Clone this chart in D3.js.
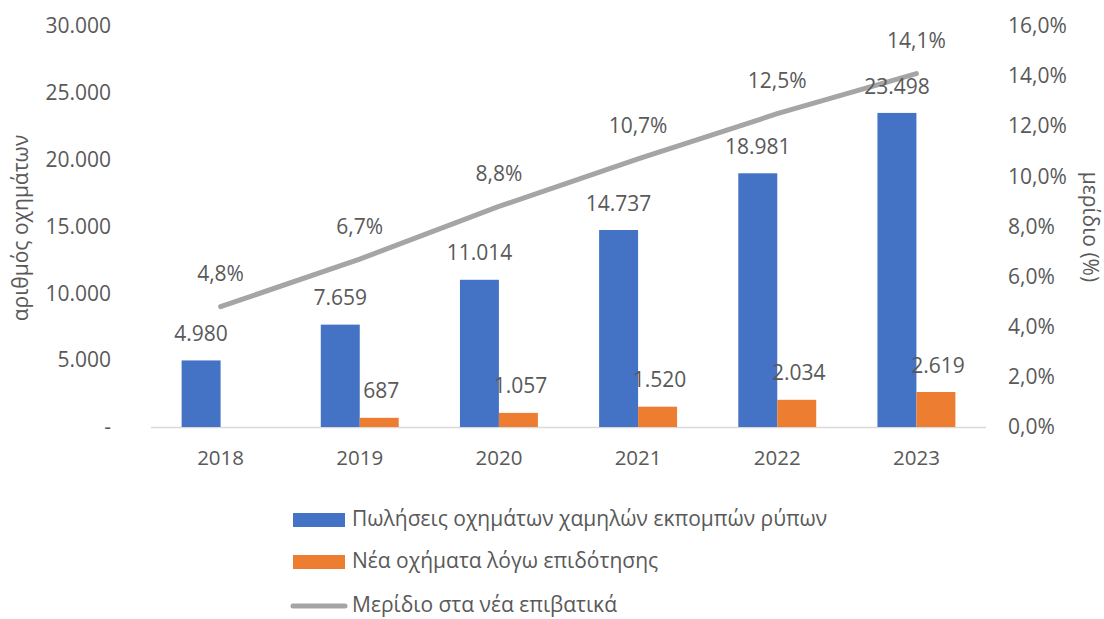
<!DOCTYPE html>
<html>
<head>
<meta charset="utf-8">
<script src="https://cdn.jsdelivr.net/npm/d3@7"></script>
<style>
  body { margin: 0; background: #fff; }
  svg text { font-family: "Open Sans", sans-serif; fill: #595959; }
</style>
</head>
<body>
<div id="chart"></div>
<script>
// Chart data
const years = ['2018', '2019', '2020', '2021', '2022', '2023'];
const lowEmissionSales = [4980, 7659, 11014, 14737, 18981, 23498];
const subsidyVehicles = [null, 687, 1057, 1520, 2034, 2619];
const sharePct = [4.8, 6.7, 8.8, 10.7, 12.5, 14.1];
const leftTicks = [0, 5000, 10000, 15000, 20000, 25000, 30000];
const rightTicks = [0, 2, 4, 6, 8, 10, 12, 14, 16];
const seriesNames = [
    'Πωλήσεις οχημάτων χαμηλών εκπομπών ρύπων',
    'Νέα οχήματα λόγω επιδότησης',
    'Μερίδιο στα νέα επιβατικά'
];

const width = 1104;
const height = 619;
const plot = { left: 151, right: 986, top: 26, bottom: 427 };
const blue = '#4472c4', orange = '#ed7d31', grey = '#a5a5a5';

const locale = d3.formatLocale({ decimal: ',', thousands: '.', grouping: [3], currency: ['€', ''] });
const fmtNum = v => v === 0 ? '-' : locale.format(',')(v);
const fmtPct = v => locale.format('.1f')(v) + '%';

const svg = d3.select('#chart')
    .append('svg')
    .attr('width', width)
    .attr('height', height);

const x = d3.scaleBand().domain(years).range([plot.left, plot.right]);
const yLeft = d3.scaleLinear().domain([0, 30000]).range([plot.bottom, plot.top]);
const yRight = d3.scaleLinear().domain([0, 16]).range([plot.bottom, plot.top]);
const barW = x.bandwidth() * 0.28;

// Left axis labels
const leftAxis = svg.append('g')
    .attr('transform', `translate(${plot.left - 40},0)`)
    .call(d3.axisLeft(yLeft).tickValues(leftTicks).tickFormat(fmtNum).tickSize(0).tickPadding(0));
leftAxis.select('.domain').remove();
leftAxis.selectAll('text').attr('font-size', 21).attr('fill', '#595959');

// Right axis labels
const rightAxis = svg.append('g')
    .attr('transform', `translate(${plot.right + 22},0)`)
    .call(d3.axisRight(yRight).tickValues(rightTicks).tickFormat(fmtPct).tickSize(0).tickPadding(0));
rightAxis.select('.domain').remove();
rightAxis.selectAll('text').attr('font-size', 21).attr('fill', '#595959');

// Category axis
svg.append('line')
    .attr('x1', plot.left).attr('x2', plot.right)
    .attr('y1', plot.bottom + 0.5).attr('y2', plot.bottom + 0.5)
    .attr('stroke', '#d9d9d9').attr('stroke-width', 1.5);

svg.selectAll('.year')
    .data(years)
    .join('text')
    .attr('x', d => x(d) + x.bandwidth() / 2)
    .attr('y', plot.bottom + 33)
    .attr('text-anchor', 'middle')
    .attr('dominant-baseline', 'middle')
    .attr('font-size', 20.5)
    .text(d => d);

// Axis titles
svg.append('text')
    .attr('transform', 'translate(22,228) rotate(-90)')
    .attr('text-anchor', 'middle')
    .attr('dominant-baseline', 'middle')
    .attr('font-size', 21)
    .text('αριθμός οχημάτων');

svg.append('text')
    .attr('transform', 'translate(1089,227) rotate(90)')
    .attr('text-anchor', 'middle')
    .attr('dominant-baseline', 'middle')
    .attr('font-size', 21)
    .text('μερίδιο (%)');

// Bars
const cx = d => x(d) + x.bandwidth() / 2;

svg.selectAll('.bar-blue')
    .data(years.map((d, i) => ({ year: d, v: lowEmissionSales[i] })))
    .join('rect')
    .attr('x', d => cx(d.year) - barW)
    .attr('y', d => yLeft(d.v))
    .attr('width', barW)
    .attr('height', d => plot.bottom - yLeft(d.v))
    .attr('fill', blue);

const orangeData = years.map((d, i) => ({ year: d, v: subsidyVehicles[i] })).filter(d => d.v != null);

svg.selectAll('.bar-orange')
    .data(orangeData)
    .join('rect')
    .attr('x', d => cx(d.year))
    .attr('y', d => yLeft(d.v))
    .attr('width', barW)
    .attr('height', d => plot.bottom - yLeft(d.v))
    .attr('fill', orange);

// Share line
const lineData = years.map((d, i) => ({ year: d, v: sharePct[i] }));
svg.append('path')
    .datum(lineData)
    .attr('d', d3.line().x(d => cx(d.year)).y(d => yRight(d.v)))
    .attr('fill', 'none')
    .attr('stroke', grey)
    .attr('stroke-width', 5)
    .attr('stroke-linecap', 'round');

// Data labels
svg.selectAll('.lbl-blue')
    .data(years.map((d, i) => ({ year: d, v: lowEmissionSales[i] })))
    .join('text')
    .attr('x', d => cx(d.year) - barW / 2)
    .attr('y', d => yLeft(d.v) - 25)
    .attr('text-anchor', 'middle')
    .attr('dominant-baseline', 'middle')
    .attr('font-size', 21)
    .attr('fill', '#404040')
    .text(d => fmtNum(d.v));

svg.selectAll('.lbl-orange')
    .data(orangeData)
    .join('text')
    .attr('x', d => cx(d.year) + barW / 2 + 2)
    .attr('y', d => yLeft(d.v) - 25)
    .attr('text-anchor', 'middle')
    .attr('dominant-baseline', 'middle')
    .attr('font-size', 21)
    .attr('fill', '#404040')
    .text(d => fmtNum(d.v));

svg.selectAll('.lbl-line')
    .data(lineData)
    .join('text')
    .attr('x', d => cx(d.year))
    .attr('y', d => yRight(d.v) - 31)
    .attr('text-anchor', 'middle')
    .attr('dominant-baseline', 'middle')
    .attr('font-size', 21)
    .attr('fill', '#404040')
    .text(d => fmtPct(d.v));

// Legend
const legend = svg.append('g').attr('transform', 'translate(293,0)');
const rows = [520, 562, 606];
seriesNames.forEach((name, i) => {
    if (i < 2) {
        legend.append('rect')
            .attr('x', 0).attr('y', rows[i] - 7)
            .attr('width', 52).attr('height', 14)
            .attr('fill', i === 0 ? blue : orange);
    } else {
        legend.append('line')
            .attr('x1', 0).attr('x2', 52)
            .attr('y1', rows[i]).attr('y2', rows[i])
            .attr('stroke', grey).attr('stroke-width', 5)
            .attr('stroke-linecap', 'round');
    }
    legend.append('text')
        .attr('x', 59).attr('y', rows[i])
        .attr('dominant-baseline', 'middle')
        .attr('font-size', 21)
        .text(name);
});
</script>
</body>
</html>
